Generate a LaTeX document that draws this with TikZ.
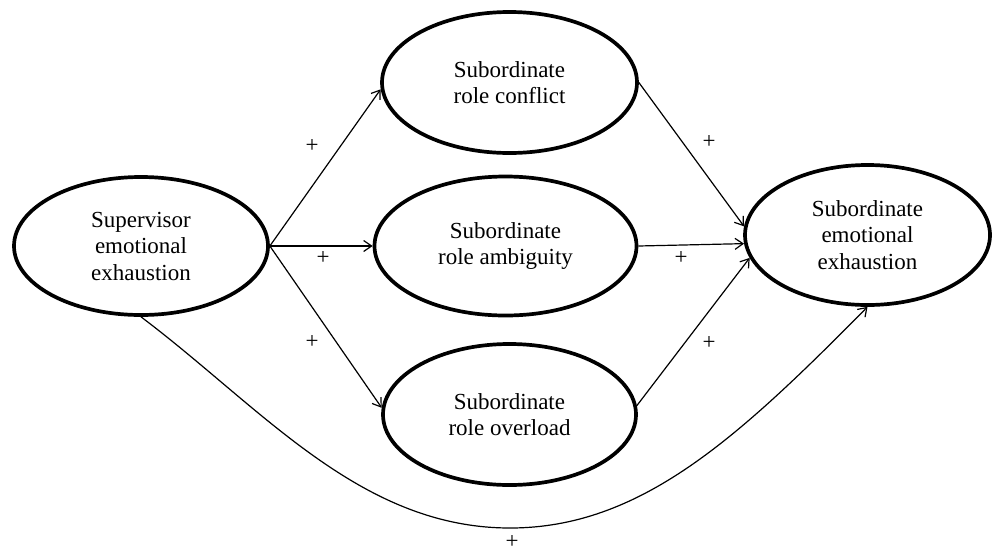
\documentclass[tikz,border=0pt]{standalone}
\usepackage{fontspec}
\setmainfont{Liberation Serif}
\usetikzlibrary{shapes.geometric,arrows.meta}
\begin{document}
\begin{tikzpicture}[x=1pt,y=-1pt,
  construct/.style={ellipse,draw,line width=3.7pt,inner sep=0pt,align=center,
    font=\fontsize{23}{26.5}\selectfont},
  link/.style={line width=1.2pt,-{Straight Barb[length=8pt,width=11pt]}},
  sign/.style={font=\fontsize{23}{26.5}\selectfont,inner sep=0pt}]
\useasboundingbox (0,0) rectangle (993,555);
\node[construct,minimum width=254pt,minimum height=138pt] (sup) at (141,246) {Supervisor\\emotional\\exhaustion};
\node[construct,minimum width=255pt,minimum height=141pt] (conf) at (509.5,82.5) {Subordinate\\role conflict};
\node[construct,minimum width=262pt,minimum height=139pt] (amb) at (505.5,246) {Subordinate\\role ambiguity};
\node[construct,minimum width=253pt,minimum height=141pt] (over) at (509.5,414.5) {Subordinate\\role overload};
\node[construct,minimum width=245pt,minimum height=140pt] (see) at (867.5,235) {Subordinate\\emotional\\exhaustion};
\coordinate (bot) at (510,528);
\draw[link] (sup.east) -- (conf.183);
\draw[link] (sup.east) -- (amb.west);
\draw[link] (sup.east) -- (over.177);
\draw[link] (conf.east) -- (see.176);
\draw[link] (amb.east) -- (see.184);
\draw[link] (over.4) -- (see.191);
\draw[link] (sup.south) .. controls (262,408) and (360,528) .. (bot)
  .. controls (640,528) and (737,439) .. (see.south);
\node[sign] (p1) at (312,146) {+};
\node[sign] (p2) at (323,258) {+};
\node[sign] (p3) at (312,342) {+};
\node[sign] (p4) at (709,142) {+};
\node[sign] (p5) at (681,258) {+};
\node[sign] (p6) at (709,343) {+};
\node[sign] (p7) at (512,542) {+};
\end{tikzpicture}
\end{document}
